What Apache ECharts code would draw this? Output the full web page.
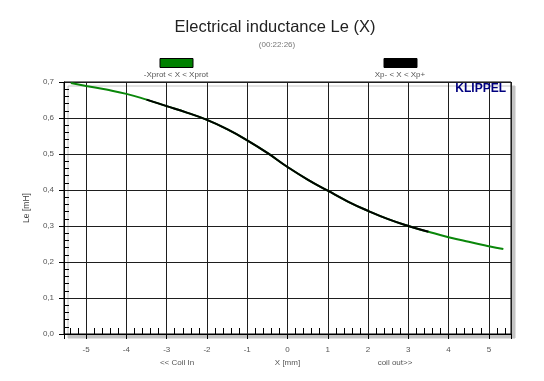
<!DOCTYPE html>
<html>
<head>
<meta charset="utf-8">
<script src="https://cdn.jsdelivr.net/npm/echarts@6/dist/echarts.min.js"></script>
<style>html,body{margin:0;padding:0;background:#fff}#c{width:544px;height:381px}</style>
</head>
<body>
<div id="c"></div>
<script>
// Data
const xMm = [-5.38,-5,-4.5,-4,-3.5,-3,-2.5,-2,-1.5,-1,-0.5,0,0.5,1,1.5,2,2.5,3,3.5,4,4.5,5,5.36];
const leMH = [0.697,0.689,0.679,0.667,0.651,0.633,0.615,0.595,0.569,0.538,0.503,0.464,0.429,0.398,0.368,0.342,0.319,0.300,0.284,0.269,0.256,0.244,0.236];
const xpMinus = -3.5;   // start of black (Xp-) range
const xpPlus = 3.5;     // end of black (Xp+) range
const xRange = [-5.55, 5.55];
const yRange = [0, 0.7];
const titleText = 'Electrical inductance Le (X)';
const subTitleText = '(00:22:26)';
const legendGreen = '-Xprot < X < Xprot';
const legendBlack = 'Xp- < X < Xp+';
const xName = 'X [mm]';
const yName = 'Le [mH]';
const coilIn = '<< Coil In';
const coilOut = 'coil out>>';
const brand = 'KLIPPEL';

const allPts = xMm.map((x, i) => [x, leMH[i]]);
const innerPts = allPts.filter(p => p[0] >= xpMinus && p[0] <= xpPlus);

const FF = 'Liberation Sans, Arial, sans-serif';
const chart = echarts.init(document.getElementById('c'), null, {renderer: 'canvas'});
chart.setOption({
  animation: false,
  backgroundColor: '#fff',
  grid: {
    left: 64, right: 33, top: 82, bottom: 47,
    show: true, backgroundColor: '#fff', borderColor: '#000', borderWidth: 1,
    shadowColor: '#c4c4c4', shadowOffsetX: 4, shadowOffsetY: 4, shadowBlur: 0
  },
  xAxis: {
    type: 'value', min: xRange[0], max: xRange[1], splitNumber: 11,
    axisLine: {show: true, onZero: false, lineStyle: {color: '#000', width: 1}},
    axisTick: {show: true, length: 5, lineStyle: {color: '#000'}},
    minorTick: {show: true, splitNumber: 5, length: -6, lineStyle: {color: '#000'}},
    splitLine: {show: true, lineStyle: {color: '#1e1e1e', width: 1}},
    axisLabel: {showMinLabel: false, showMaxLabel: false, fontSize: 8, color: '#555', fontFamily: FF, margin: 12},
    name: xName, nameLocation: 'middle', nameGap: 25,
    nameTextStyle: {fontSize: 8, color: '#555', fontFamily: FF}
  },
  yAxis: {
    type: 'value', min: yRange[0], max: yRange[1], interval: 0.1,
    axisLine: {show: true, onZero: false, lineStyle: {color: '#000', width: 1}},
    axisTick: {show: true, length: 5, lineStyle: {color: '#000'}},
    minorTick: {show: true, splitNumber: 5, length: -5, lineStyle: {color: '#000'}},
    splitLine: {show: true, lineStyle: {color: '#1e1e1e', width: 1}},
    axisLabel: {fontSize: 8, color: '#555', fontFamily: FF, margin: 10,
      formatter: v => v.toFixed(1).replace('.', ',')},
    name: yName, nameLocation: 'middle', nameGap: 33,
    nameTextStyle: {fontSize: 8.5, color: '#444', fontFamily: FF}
  },
  series: [
    {type: 'line', data: allPts, showSymbol: false, smooth: 0.5, z: 3,
     lineStyle: {color: '#0a870a', width: 2}, itemStyle: {color: '#0a870a'}},
    {type: 'line', data: innerPts, showSymbol: false, smooth: 0.5, z: 4,
     lineStyle: {color: '#000', width: 2}, itemStyle: {color: '#000'}}
  ],
  graphic: [
    {type: 'text', style: {text: titleText, x: 275, y: 36, align: 'center', verticalAlign: 'bottom',
      fontSize: 16.5, fontFamily: FF, fill: '#222'}},
    {type: 'text', style: {text: subTitleText, x: 277, y: 45, align: 'center', verticalAlign: 'middle',
      fontSize: 8, fontFamily: FF, fill: '#777'}},
    {type: 'rect', shape: {x: 160, y: 58.5, width: 33, height: 9}, style: {fill: '#008000', stroke: '#000', lineWidth: 1}},
    {type: 'rect', shape: {x: 384, y: 58.5, width: 33, height: 9}, style: {fill: '#000', stroke: '#000', lineWidth: 1}},
    {type: 'text', style: {text: legendGreen, x: 176, y: 75, align: 'center', verticalAlign: 'middle',
      fontSize: 8, fontFamily: FF, fill: '#555'}},
    {type: 'text', style: {text: legendBlack, x: 400, y: 75, align: 'center', verticalAlign: 'middle',
      fontSize: 8, fontFamily: FF, fill: '#555'}},
    {type: 'text', style: {text: coilIn, x: 177, y: 363, align: 'center', verticalAlign: 'middle',
      fontSize: 8, fontFamily: FF, fill: '#555'}},
    {type: 'text', style: {text: coilOut, x: 395, y: 363, align: 'center', verticalAlign: 'middle',
      fontSize: 8, fontFamily: FF, fill: '#555'}},
    {type: 'text', z: 10, style: {text: brand, x: 506, y: 83, align: 'right', verticalAlign: 'top',
      fontSize: 12, fontWeight: 'bold', fontFamily: FF, fill: '#00007f'}}
  ]
});
</script>
</body>
</html>
